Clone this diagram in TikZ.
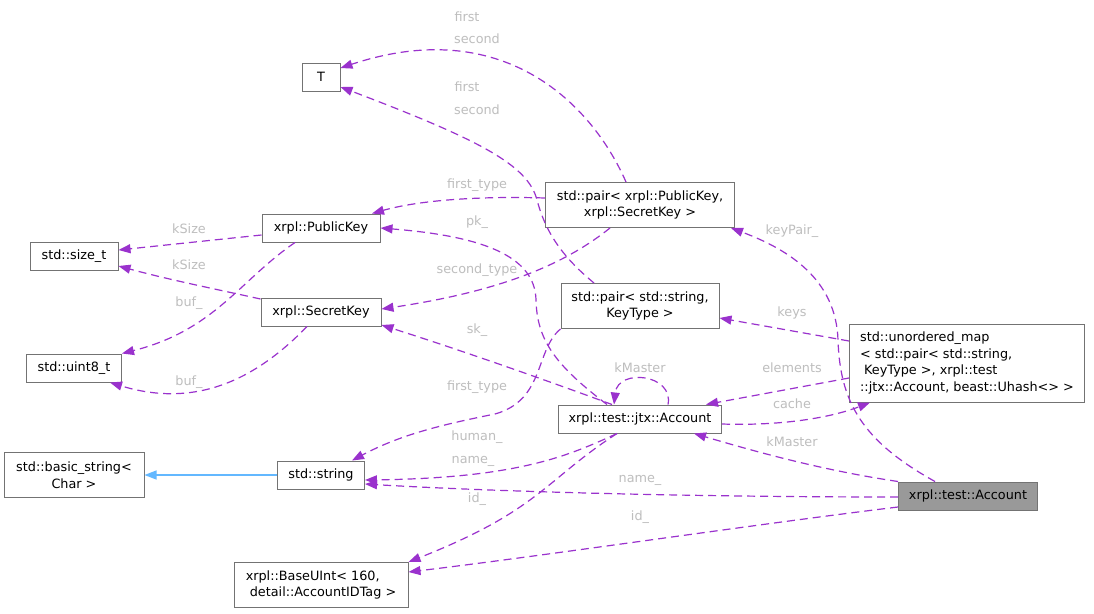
\documentclass[tikz,border=0pt]{standalone}
\usepackage{fontspec}
\setmainfont{DejaVu Sans}
\usetikzlibrary{arrows.meta}
\definecolor{edgepurple}{HTML}{9A32CD}
\definecolor{lblgrey}{HTML}{BEBEBE}
\definecolor{boxgrey}{HTML}{737373}
\definecolor{focusgrey}{HTML}{999999}
\definecolor{inhblue}{HTML}{63B8FF}

\begin{document}
\begin{tikzpicture}[x=1pt, y=-1pt,
  cls/.style={draw=boxgrey, line width=1pt, fill=white, inner sep=2pt, minimum height=28pt, font=\fontsize{12.8}{16.8}\selectfont},
  usage/.style={draw=edgepurple, line width=1.2pt, dash pattern=on 8pt off 5pt, -{Triangle[length=12pt,width=9pt]}},
  inherit/.style={draw=inhblue, line width=1.2pt, -{Triangle[length=12pt,width=9pt]}},
  lbl/.style={text=lblgrey, inner sep=0pt, font=\fontsize{12.8}{15}\selectfont}]
  %
  \path[fill=white, use as bounding box] (0,0) rectangle (1094,613);
  %
  \node[cls, minimum width=38pt] (tT) at (321,77) {T};
  \node[cls, minimum width=88pt] (sizeT) at (74,256) {std::size\_t};
  \node[cls, minimum width=118pt] (pubKey) at (321,228) {xrpl::PublicKey};
  \node[cls, minimum width=120pt] (secKey) at (321,312) {xrpl::SecretKey};
  \node[cls, minimum width=95pt] (uint8) at (74,368) {std::uint8\_t};
  \node[cls, minimum width=140pt, minimum height=45pt, align=center] (basicStr) at (74,475) {std::basic\_string<\\Char >};
  \node[cls, minimum width=87pt] (stdStr) at (321,475) {std::string};
  \node[cls, minimum width=174pt, minimum height=45pt, align=left] (baseUInt) at (321,585) {xrpl::BaseUInt< 160,\\~detail::AccountIDTag >};
  \node[cls, minimum width=189pt, minimum height=45pt, align=center] (pairKeys) at (640,205) {std::pair< xrpl::PublicKey,\\xrpl::SecretKey >};
  \node[cls, minimum width=158pt, minimum height=45pt, align=center] (pairStr) at (640,306) {std::pair< std::string,\\KeyType >};
  \node[cls, minimum width=235pt, minimum height=78pt, align=left] (umap) at (967,363) {std::unordered\_map\\< std::pair< std::string,\\~KeyType >, xrpl::test\\::jtx::Account, beast::Uhash<> >};
  \node[cls, minimum width=163pt] (jtxAcc) at (640,419) {xrpl::test::jtx::Account};
  \node[cls, fill=focusgrey, minimum width=139pt] (testAcc) at (968,496) {xrpl::test::Account};
  %
  \draw[inherit] (stdStr.west) -- (basicStr.east);
  %
  \draw[usage] ([xshift=-14pt]pairKeys.north) .. controls (590,100) and (500,15) .. ([yshift=9pt]tT.east);
  \draw[usage] ([xshift=-46pt]pairStr.north) .. controls (560,255) and (545,230) .. (537,200) .. controls (528,165) and (480,140) .. ([yshift=-10pt]tT.east);
  \draw[usage] ([yshift=7pt]pairKeys.west) .. controls (480,196) and (420,200) .. ([xshift=51pt]pubKey.north);
  \draw[usage] ([xshift=-30pt]pairKeys.south) .. controls (570,260) and (510,290) .. ([yshift=3pt]secKey.east);
  \draw[usage] ([xshift=-33pt]jtxAcc.north) .. controls (555,365) and (537,340) .. (536,300) .. controls (535,255) and (480,236) .. (pubKey.east);
  \draw[usage] ([xshift=-28pt]jtxAcc.north) .. controls (540,378) and (460,350) .. ([yshift=-13pt]secKey.east);
  \draw[usage] (pairStr.south west) .. controls (535,350) and (545,400) .. (495,414) .. controls (440,425) and (400,435) .. ([xshift=31pt]stdStr.north);
  \draw[usage] ([xshift=-23pt]jtxAcc.south) .. controls (570,455) and (520,478) .. ([yshift=-5pt]stdStr.east);
  \draw[usage] ([yshift=-1pt]testAcc.west) .. controls (700,497) and (500,492) .. ([yshift=-9pt]stdStr.east);
  \draw[usage] ([xshift=-23pt]jtxAcc.south) .. controls (545,480) and (540,510) .. (baseUInt.north east);
  \draw[usage] ([yshift=-11pt]testAcc.west) .. controls (750,525) and (550,555) .. ([yshift=13pt]baseUInt.east);
  \draw[usage] ([yshift=-7pt]pubKey.west) -- ([yshift=6pt]sizeT.east);
  \draw[usage] ([yshift=13pt]secKey.west) .. controls (220,290) and (170,280) .. ([yshift=-10pt]sizeT.east);
  \draw[usage] ([xshift=-26pt]pubKey.south) .. controls (240,280) and (215,330) .. (uint8.north east);
  \draw[usage] ([xshift=-14pt]secKey.south) .. controls (260,375) and (200,410) .. ([xshift=36pt]uint8.south);
  \draw[usage] ([yshift=22pt]umap.west) -- ([yshift=-12pt]pairStr.east);
  \draw[usage] ([yshift=-15pt]umap.west) -- ([xshift=66pt]jtxAcc.north);
  \draw[usage] ([yshift=-5pt]jtxAcc.east) .. controls (780,426) and (830,418) .. ([xshift=-97pt]umap.south);
  \draw[usage] (testAcc.north west) .. controls (820,470) and (750,450) .. ([xshift=54pt]jtxAcc.south);
  \draw[usage] ([xshift=-33pt]testAcc.north) .. controls (860,440) and (840,400) .. (838,340) .. controls (836,280) and (790,250) .. ([xshift=-4pt]pairKeys.south east);
  \draw[usage] ([xshift=28pt]jtxAcc.north) .. controls (674,374) and (618,368) .. ([xshift=-26pt]jtxAcc.north);
  %
  \node[lbl] (lFirstA) at (467,17) {first};
  \node[lbl] (lSecondA) at (477,39) {second};
  \node[lbl] (lFirstB) at (467,87) {first};
  \node[lbl] (lSecondB) at (477,110) {second};
  \node[lbl] (lFirstType) at (477,185) {first\_type};
  \node[lbl] (lPk) at (477,222) {pk\_};
  \node[lbl] (lSecondType) at (477,270) {second\_type};
  \node[lbl] (lSk) at (477,330) {sk\_};
  \node[lbl] (lFirstTypeB) at (477,387) {first\_type};
  \node[lbl] (lHuman) at (477,437) {human\_};
  \node[lbl] (lNameA) at (473,461) {name\_};
  \node[lbl] (lIdA) at (477,499) {id\_};
  \node[lbl] (lKSizeA) at (189,229) {kSize};
  \node[lbl] (lKSizeB) at (189,265) {kSize};
  \node[lbl] (lBufA) at (189,303) {buf\_};
  \node[lbl] (lBufB) at (189,382) {buf\_};
  \node[lbl] (lKeyPair) at (792,231) {keyPair\_};
  \node[lbl] (lKeys) at (792,313) {keys};
  \node[lbl] (lKMasterA) at (640,368) {kMaster};
  \node[lbl] (lElements) at (792,368) {elements};
  \node[lbl] (lCache) at (792,404) {cache};
  \node[lbl] (lKMasterB) at (792,442) {kMaster};
  \node[lbl] (lNameB) at (640,480) {name\_};
  \node[lbl] (lIdB) at (640,517) {id\_};
\end{tikzpicture}
\end{document}
